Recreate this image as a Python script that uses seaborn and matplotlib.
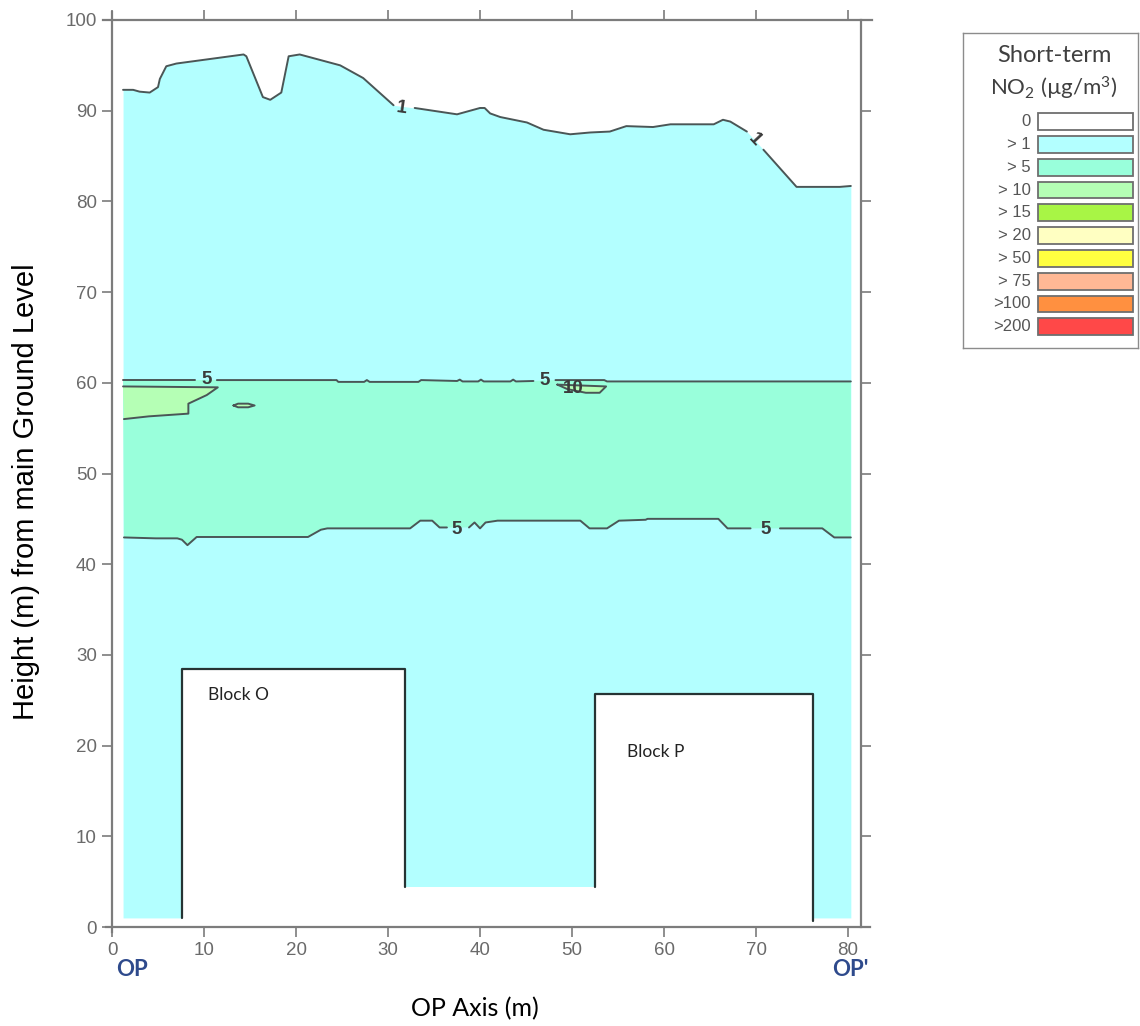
import numpy as np
import pandas as pd
import seaborn as sns
import matplotlib.pyplot as plt

# level 1 contour (top of the >1 region)
top1_x = [1.2, 2.3, 3.0, 4.1, 5.0, 5.2, 5.9, 7.0, 14.3, 14.6, 16.4, 17.2, 18.4, 19.2, 20.4,
          24.8, 27.3, 30.6, 32.9, 37.5, 40.0, 40.5, 41.1, 42.2, 45.1, 46.9, 49.8, 52.0, 54.1,
          55.9, 58.8, 60.7, 65.4, 66.4, 67.2, 69.0, 70.8, 74.4, 79.1, 80.3]
top1_y = [92.3, 92.3, 92.1, 92.0, 92.6, 93.5, 94.9, 95.2, 96.2, 96.0, 91.5, 91.2, 92.0, 96.0, 96.2,
          95.0, 93.6, 90.6, 90.3, 89.6, 90.3, 90.3, 89.7, 89.3, 88.7, 87.9, 87.4, 87.6, 87.7,
          88.3, 88.2, 88.5, 88.5, 89.0, 88.8, 87.7, 85.7, 81.6, 81.6, 81.7]
top1_lab_x = [31.5, 69.9]
top1_lab_y = [90.3, 86.8]
top1_lab_rot = [-8, -47]

# level 5 contour, upper and lower
c5u_x = [1.2, 9.0, 11.4, 24.4, 24.6, 27.4, 27.7, 28.0, 33.3, 33.6, 37.5, 37.8, 38.1, 39.8, 40.1,
         40.4, 43.3, 43.6, 43.9, 45.8, 48.2, 53.5, 53.8, 80.3]
c5u_y = [60.3, 60.3, 60.3, 60.3, 60.1, 60.1, 60.3, 60.1, 60.1, 60.3, 60.2, 60.35, 60.15, 60.15, 60.35,
         60.15, 60.15, 60.35, 60.15, 60.2, 60.3, 60.3, 60.15, 60.15]
c5u_lab_x = [10.3, 47.0]
c5u_lab_y = [60.4, 60.3]

c5l_x = [1.3, 4.75, 7.1, 7.6, 8.2, 9.2, 21.3, 22.7, 23.4, 32.4, 33.5, 34.8, 35.6, 36.4, 38.8, 39.4,
         40.0, 40.6, 41.9, 50.9, 51.9, 53.8, 55.1, 58.0, 58.2, 65.9, 66.9, 69.4, 72.6, 77.2, 78.5, 80.3]
c5l_y = [42.95, 42.85, 42.85, 42.7, 42.1, 43.0, 43.0, 43.8, 43.95, 43.95, 44.8, 44.8, 44.05, 44.05,
         44.05, 44.6, 43.95, 44.6, 44.8, 44.8, 43.95, 43.95, 44.8, 44.9, 45.0, 45.0, 43.95, 43.95,
         43.95, 43.95, 42.95, 42.95]
c5l_lab_x = [37.5, 71.0]
c5l_lab_y = [43.8, 43.8]

# level 10 patches
p10a_x = [1.2, 11.5, 10.3, 8.3, 8.3, 4.0, 1.3]
p10a_y = [59.6, 59.5, 58.65, 57.7, 56.6, 56.3, 56.0]
p10b_x = [13.2, 13.7, 14.8, 15.5, 14.8, 13.7, 13.2]
p10b_y = [57.5, 57.7, 57.7, 57.5, 57.3, 57.3, 57.5]
p10c_x = [48.4, 53.7, 53.0, 51.5, 49.5, 48.4]
p10c_y = [59.8, 59.6, 58.9, 58.9, 59.3, 59.8]
p10_lab = (50.1, 59.35)

# buildings
block_o_x = [7.6, 7.6, 31.8, 31.8]
block_o_y = [1.0, 28.4, 28.4, 4.4]
block_p_x = [52.5, 52.5, 76.2, 76.2]
block_p_y = [4.4, 25.7, 25.7, 0.7]
domain_bottom = 1.0

# legend
leg_labels = ["0", "> 1", "> 5", "> 10", "> 15", "> 20", "> 50", "> 75", ">100", ">200"]
leg_colors = ["#FFFFFF", "#B3FFFF", "#99FFDB", "#B5FFB5", "#A8F545",
              "#FFFFC2", "#FFFF40", "#FFB895", "#FF9040", "#FF4848"]

sns.set_style("ticks")
plt.rcParams["font.family"] = ["Liberation Sans", "DejaVu Sans"]
plt.rcParams["mathtext.default"] = "regular"

line_c = "#4a5656"
frame_c = "#7c7c7c"

fig = plt.figure(figsize=(11.4, 10.26), dpi=100)
ax = fig.add_axes([112 / 1140, 1 - 927 / 1026, (860.5 - 112) / 1140, (927 - 20) / 1026])

# fills
ax.fill_between(top1_x, domain_bottom, top1_y, color=leg_colors[1], lw=0)
ax.fill(np.r_[c5l_x, c5u_x[::-1]], np.r_[c5l_y, c5u_y[::-1]], color=leg_colors[2], lw=0)
for px, py in [(p10a_x, p10a_y), (p10b_x, p10b_y), (p10c_x, p10c_y)]:
    ax.fill(px, py, color=leg_colors[3], lw=0)
bx = [block_o_x[0]] + block_o_x + block_p_x + [block_p_x[-1]]
by = [0] + block_o_y + block_p_y + [0]
ax.fill(bx, by, color="white", lw=0)


def segments(xs, ys, gaps, name):
    seg = np.searchsorted(gaps, xs) if gaps else np.zeros(len(xs), int)
    return pd.DataFrame({"x": xs, "y": ys, "unit": [f"{name}{s}" for s in seg]})


lines = pd.concat([
    segments(top1_x, top1_y, top1_lab_x, "t"),
    segments(c5u_x, c5u_y, c5u_lab_x, "u"),
    segments(c5l_x, c5l_y, c5l_lab_x, "l"),
    segments(p10a_x, p10a_y, [], "a"),
    segments(p10b_x, p10b_y, [], "b"),
    segments(p10c_x, p10c_y, [], "c"),
], ignore_index=True)
sns.lineplot(data=lines, x="x", y="y", units="unit", estimator=None, sort=False,
             color=line_c, lw=1.4, ax=ax)

blocks = pd.concat([segments(block_o_x, block_o_y, [], "O"),
                    segments(block_p_x, block_p_y, [], "P")], ignore_index=True)
sns.lineplot(data=blocks, x="x", y="y", units="unit", estimator=None, sort=False,
             color="#263434", lw=1.6, ax=ax)

# contour labels
lab_kw = dict(ha="center", va="center", fontsize=13.5, fontweight="bold", color="#3b3b3b")
for x, y, r in zip(top1_lab_x, top1_lab_y, top1_lab_rot):
    ax.text(x, y, "1", rotation=r, **lab_kw)
for x, y in zip(c5u_lab_x + c5l_lab_x, c5u_lab_y + c5l_lab_y):
    ax.text(x, y, "5", **lab_kw)
ax.text(*p10_lab, "10", **lab_kw)

blk_kw = dict(ha="left", va="center", fontsize=12.5, color="#222222", family=["Lato", "DejaVu Sans"])
ax.text(10.4, 25.6, "Block O", **blk_kw)
ax.text(56.0, 19.3, "Block P", **blk_kw)

ax.set_xlim(0, 81.35)
ax.set_ylim(0, 100)
ax.set_xticks(np.arange(0, 81, 10))
ax.set_yticks(np.arange(0, 101, 10))
ax.tick_params(direction="out", length=7, width=1.2, color=frame_c, labelcolor="#6a6a6a",
               labelsize=13.5, top=True, right=True, labeltop=False, labelright=False, pad=4)
for side in ax.spines:
    ax.spines[side].set_color(frame_c)
    ax.spines[side].set_linewidth(1.6)
ax.spines["top"].set_bounds(-1.0, 82.6)
ax.spines["bottom"].set_bounds(-0.7, 82.4)
ax.spines["left"].set_bounds(-0.5, 100.9)

ax.set_ylabel("Height (m) from main Ground Level", fontsize=21, color="black")
ax.yaxis.set_label_coords(-0.096, 0.48)
ax.set_xlabel("OP Axis (m)", fontsize=18, color="black", family=["Lato", "DejaVu Sans"])
ax.xaxis.set_label_coords(0.485, -0.077)

op_kw = dict(ha="center", va="center", fontsize=16, fontweight="bold", color="#2E4A8C",
             family=["Lato", "DejaVu Sans"])
fig.text(132 / 1140, 1 - 970 / 1026, "OP", **op_kw)
fig.text(850 / 1140, 1 - 970 / 1026, "OP'", **op_kw)

# legend box (pixel coordinates)
lax = fig.add_axes([963 / 1140, 1 - 348 / 1026, 175 / 1140, 315 / 1026])
lax.set_xlim(963, 1138)
lax.set_ylim(348, 33)
lax.set_xticks([])
lax.set_yticks([])
for side in lax.spines:
    lax.spines[side].set_color("#8c8c8c")
    lax.spines[side].set_linewidth(1.0)
centers = 121.7 + 22.78 * np.arange(len(leg_labels))
lax.barh(centers, 95, left=1038, height=16.7, color=leg_colors, edgecolor="#6e6e6e", linewidth=1.3)
for cy, lab in zip(centers, leg_labels):
    lax.text(1031, cy, lab, ha="right", va="center", fontsize=12, color="#555555")
title_kw = dict(ha="center", va="center", color="#404040", family=["Lato", "DejaVu Sans"])
lax.text(1054, 55, "Short-term", fontsize=17, **title_kw)
lax.text(1054, 88, "NO$_2$ (\u00b5g/m$^3$)", fontsize=16, **title_kw)

fig.savefig("out.png", dpi=100)
